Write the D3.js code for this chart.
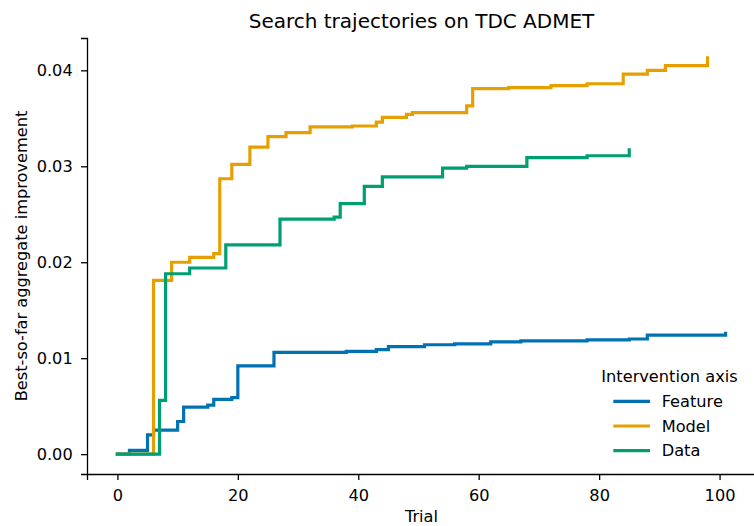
<!DOCTYPE html>
<html><head><meta charset="utf-8">
<script src="https://cdn.jsdelivr.net/npm/d3@7"></script>
<style>body{margin:0;background:#fff}svg{display:block;font-family:"DejaVu Sans",sans-serif}</style>
</head><body><svg id="c" width="754" height="526"></svg>
<script>
const seriesNames = ["Feature", "Model", "Data"];
const seriesColors = ["#0072B2", "#E69F00", "#009E73"];
const featureTrials = [0, 2, 5, 6, 10, 11, 15, 16, 19, 20, 26, 38, 43, 45, 51, 56, 62, 67, 78, 85, 88, 101];
const featureValues = [0, 0.0004, 0.0020, 0.0025, 0.0034, 0.0049, 0.0051, 0.0057, 0.0059, 0.0092, 0.0106, 0.0107, 0.0109, 0.0112, 0.0114, 0.0115, 0.0117, 0.0118, 0.0119, 0.0120, 0.0124, 0.0126];
const modelTrials = [0, 6, 9, 12, 16, 17, 19, 22, 25, 28, 32, 39, 43, 44, 48, 49, 58, 59, 65, 72, 78, 84, 88, 91, 98];
const modelValues = [0, 0.0181, 0.0200, 0.0205, 0.0209, 0.0287, 0.0302, 0.0320, 0.0331, 0.0335, 0.0341, 0.0342, 0.0346, 0.0351, 0.0354, 0.0356, 0.0363, 0.0381, 0.0382, 0.0384, 0.0386, 0.0396, 0.0400, 0.0405, 0.0413];
const dataTrials = [0, 7, 8, 12, 18, 27, 36, 37, 41, 44, 54, 58, 68, 78, 85];
const dataValues = [0, 0.0056, 0.0188, 0.0194, 0.0218, 0.0245, 0.0247, 0.0261, 0.0279, 0.0289, 0.0298, 0.0300, 0.0309, 0.0311, 0.0317];
const xTicks = [0, 20, 40, 60, 80, 100];
const yTicks = [0, 0.01, 0.02, 0.03, 0.04];

const trialsList = [featureTrials, modelTrials, dataTrials];
const valuesList = [featureValues, modelValues, dataValues];
const series = seriesNames.map((n, i) => ({name: n, color: seriesColors[i],
  pts: trialsList[i].map((t, j) => [t, valuesList[i][j]])}));

const svg = d3.select("#c");
const L = 87, R = 756, T = 38, B = 474;
const x = d3.scaleLinear().domain([-5.05, 106.05]).range([L, R]);
const y = d3.scaleLinear().domain([-0.00207, 0.04337]).range([B, T]);

const fs = 16.2;
// axes
const gx = svg.append("g").attr("transform", `translate(0,${B})`)
  .call(d3.axisBottom(x).tickValues(xTicks).tickFormat(d3.format("d")).tickSizeOuter(0).tickSize(6).tickPadding(9.5));
const gy = svg.append("g").attr("transform", `translate(${L},0)`)
  .call(d3.axisLeft(y).tickValues(yTicks).tickFormat(d3.format(".2f")).tickSizeOuter(0).tickSize(6).tickPadding(8.3));
[gx, gy].forEach(g => {
  g.select(".domain").attr("stroke", "#000").attr("stroke-width", 1.3);
  g.selectAll(".tick line").attr("stroke", "#000").attr("stroke-width", 1.3);
  g.selectAll(".tick text").attr("font-family", "DejaVu Sans").attr("font-size", fs).attr("fill", "#000");
});

const line = d3.line().x(d => x(d[0])).y(d => y(d[1])).curve(d3.curveStepAfter);
series.forEach(s => {
  svg.append("path").attr("d", line(s.pts)).attr("fill", "none")
    .attr("stroke", s.color).attr("stroke-width", 3.2).attr("stroke-linejoin", "miter").attr("stroke-linecap", "square");
});

svg.append("text").attr("x", (L + R) / 2).attr("y", 28).attr("text-anchor", "middle")
  .attr("font-size", 20).text("Search trajectories on TDC ADMET");
svg.append("text").attr("x", (L + R) / 2).attr("y", 522).attr("text-anchor", "middle")
  .attr("font-size", fs).text("Trial");
svg.append("text").attr("transform", `translate(26.7,${(T + B) / 2}) rotate(-90)`).attr("text-anchor", "middle")
  .attr("font-size", fs).text("Best-so-far aggregate improvement");

// legend
const lg = svg.append("g");
lg.append("text").attr("x", 669.5).attr("y", 382).attr("text-anchor", "middle").attr("font-size", fs).text("Intervention axis");
series.forEach((s, i) => {
  const yy = 401.3 + i * 24.7;
  lg.append("line").attr("x1", 613.3).attr("x2", 650).attr("y1", yy).attr("y2", yy)
    .attr("stroke", s.color).attr("stroke-width", 3.2);
  lg.append("text").attr("x", 661.7).attr("y", yy + 5.6).attr("font-size", fs).text(s.name);
});
</script></body></html>
